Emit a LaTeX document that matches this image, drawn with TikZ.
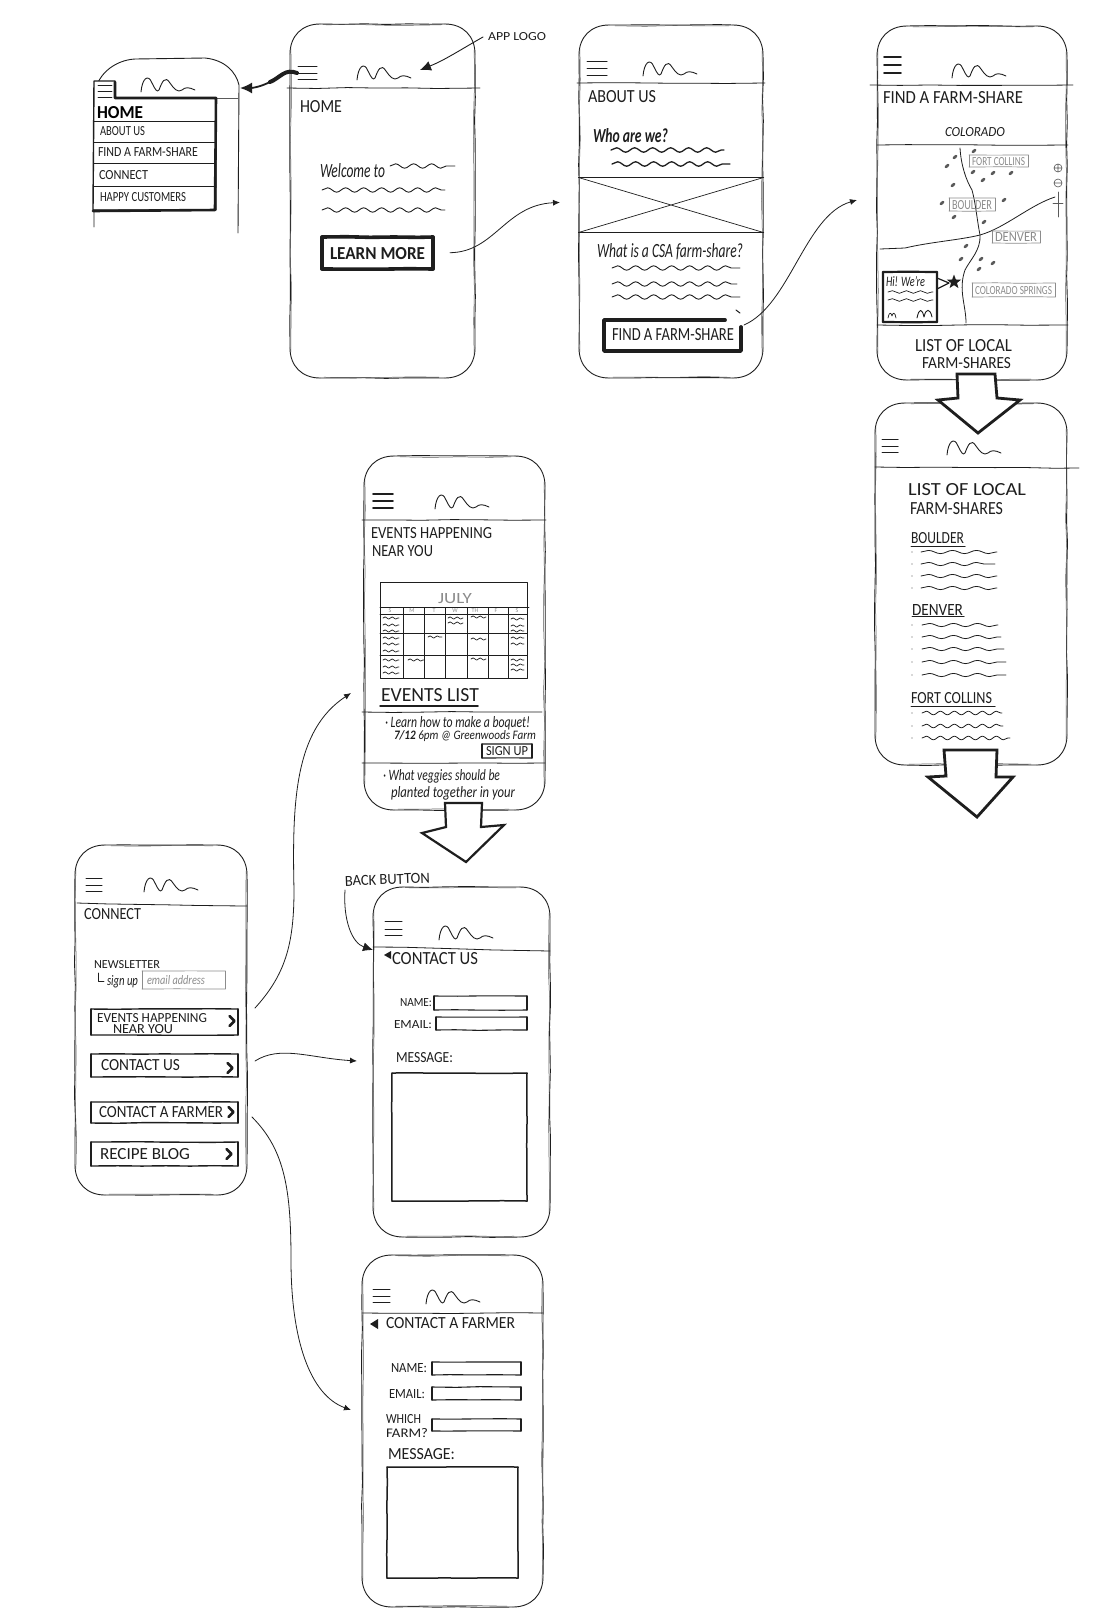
\documentclass[tikz,border=0pt]{standalone}
\usepackage{fontspec}
\usepackage{graphicx}
\setmainfont{Carlito}
\usetikzlibrary{decorations.pathmorphing,arrows.meta,shapes.geometric,calc}
\definecolor{ink}{HTML}{1E1E1E}
\definecolor{soft}{HTML}{5A5A5A}
\definecolor{pale}{HTML}{8C8C8C}
\newcounter{sktc}
\tikzset{
  x=1pt,y=-1pt,
  every path/.append style={line cap=round,line join=round},
  anchorbox/.style={inner sep=0,outer sep=0},
  phonecorner/.style={draw=ink,line width=.9pt},
  phoneside/.style={draw=ink,line width=.9pt,decorate,decoration={random steps,segment length=22pt,amplitude=.5pt}},
  ghostline/.style={draw=soft,line width=.5pt,decorate,decoration={random steps,segment length=30pt,amplitude=.7pt}},
  rule/.style={line width=.8pt,decorate,decoration={random steps,segment length=30pt,amplitude=.5pt}},
  fieldbox/.style={draw=ink,line width=1.1pt,decorate,decoration={random steps,segment length=24pt,amplitude=.35pt}},
  cta/.style={fieldbox,line width=3.6pt},
  listbtn/.style={fieldbox,line width=1.4pt},
  greybox/.style={fieldbox,draw=pale,line width=.7pt},
  wavy/.style={line width=.9pt,decorate,decoration={snake,segment length=18pt,amplitude=2.2pt}},
  wavyheavy/.style={wavy,line width=1.3pt},
  wavythin/.style={line width=.8pt,decorate,decoration={snake,segment length=24pt,amplitude=1.6pt}},
  wavysmall/.style={line width=.7pt,decorate,decoration={snake,segment length=7pt,amplitude=1.1pt}},
  logoline/.style={line width=.9pt},
  burgerline/.style={line width=1pt},
  linkline/.style={line width=.8pt,-{Latex[length=7pt,width=6pt]}},
  bigarrow/.style={draw=ink,fill=white,line width=2.8pt,line join=miter},
  labeltext/.style={inner sep=0,outer sep=0,text=ink,anchor=base west},
  paletext/.style={text=pale},
  blob/.style={fill=soft,draw=none}
}
\newcommand\skphone[5]{%
  \node[anchorbox,minimum width={(#4-#2)*1pt},minimum height={(#5-#3)*1pt}] (#1) at ({(#2+#4)/2},{(#3+#5)/2}) {};
  \draw[phonecorner] ({#2},{#3+30}) .. controls ({#2},{#3+12}) and ({#2+12},{#3}) .. ({#2+30},{#3})
    ({#4-30},{#3}) .. controls ({#4-12},{#3}) and ({#4},{#3+12}) .. ({#4},{#3+30})
    ({#4},{#5-30}) .. controls ({#4},{#5-12}) and ({#4-12},{#5}) .. ({#4-30},{#5})
    ({#2+30},{#5}) .. controls ({#2+12},{#5}) and ({#2},{#5-12}) .. ({#2},{#5-30});
  \draw[phoneside] ({#2},{#3+30}) -- ({#2},{#5-30});
  \draw[phoneside] ({#2+30},{#3}) -- ({#4-30},{#3});
  \draw[phoneside] ({#4},{#3+30}) -- ({#4},{#5-30});
  \draw[phoneside] ({#2+30},{#5}) -- ({#4-30},{#5});
  \draw[ghostline] ({#2+.9},{#3+24}) -- ({#2+.9},{#5-26});
  \draw[ghostline] ({#4-.9},{#3+26}) -- ({#4-.9},{#5-24});
  \draw[ghostline] ({#2+36},{#3+.8}) -- ({#4-34},{#3+.8});
  \draw[ghostline] ({#2+34},{#5-.8}) -- ({#4-36},{#5-.8});
}
\newcommand\skbox[6][fieldbox]{%
  \node[anchorbox,minimum width={(#5-#3)*1pt},minimum height={(#6-#4)*1pt}] (#2) at ({(#3+#5)/2},{(#4+#6)/2}) {};
  \draw[#1] (#3,#4) -- (#5,#4);
  \draw[#1] (#5,#4) -- (#5,#6);
  \draw[#1] (#5,#6) -- (#3,#6);
  \draw[#1] (#3,#6) -- (#3,#4);
}
\newcommand\sktxt[6][]{%
  \stepcounter{sktc}\pgfmathsetmacro\skw{#3-#2}%
  \node[labeltext,#1] (txt\arabic{sktc}) at (#2,{#4+#5/2}) {\resizebox{\skw pt}{#5pt}{#6}};
}
\newcommand\sklogo[2]{%
  \draw[logoline,shift={(#1,#2)}] (0,2) .. controls (1,-11) and (7,-17) .. (11,-7) .. controls (14,-1) and (16,3) .. (18,0) .. controls (21,-8) and (24,-15) .. (29,-7) .. controls (33,-1) and (37,3) .. (41,0) .. controls (44,-3) and (48,-3) .. (54,0);
}
\newcommand\skburger[6][burgerline]{%
  \draw[#1] (#2,#4) -- (#3,#4) (#2,#5) -- (#3,#5) (#2,#6) -- (#3,#6);
}
\newcommand\skchev[2]{\draw[line width=2.6pt] ({#1-2.5},{#2-5}) -- ({#1+2.5},#2) -- ({#1-2.5},{#2+5});}
\newcommand\skwave[4][wavy]{\draw[#1] (#2,#3) -- (#4,#3);}
\begin{document}
\begin{tikzpicture}[color=ink]
\pgfmathsetseed{11}
\fill[white] (0,0) rectangle (1112,1618);
\useasboundingbox (0,0) rectangle (1112,1618);

%% ---- menu overlay phone
\draw[line width=.9pt] (94,227) -- (94,100) .. controls (94,75) and (115,60) .. (135,59) -- (205,58) .. controls (225,60) and (236,72) .. (239,85) -- (238,233);
\draw[line width=.6pt,draw=soft] (217,98) -- (238,98);
\sklogo{141}{90}
\draw[fill=white,line width=1.4pt] (94,81) -- (115,81) -- (115,98) -- (216,98) -- (216,210) -- (93,210) -- cycle;
\draw[line width=2.6pt] (115,82) -- (115,98) -- (216,98) -- (215,210) -- (93,211);
\skburger[line width=.9pt]{98}{112}{85}{91}{97}
\foreach \yy in {121,142,163,186} \draw[line width=.7pt] (94,\yy) -- (215,\yy);
\sktxt[text=black]{97}{143}{112}{12}{\textbf{HOME}}
\sktxt{100}{145}{131}{9}{ABOUT US}
\sktxt{98}{198}{152}{9}{FIND A FARM-SHARE}
\sktxt{99}{148}{175}{9}{CONNECT}
\sktxt{100}{186}{197}{9}{HAPPY CUSTOMERS}
\coordinate (menuedge) at (240,88);

%% ---- home
\skphone{home}{290}{24}{475}{378}
\draw[rule] (287,88) -- (480,88);
\skburger{298}{317}{66}{73}{79}
\sklogo{357}{78}
\sktxt{300}{342}{106}{12}{HOME}
\sktxt[font=\itshape]{320}{385}{170}{14}{Welcome to}
\skwave[wavy]{390}{166}{455}
\skwave[wavy]{322}{190}{445}
\skwave[wavy]{322}{210}{445}
\skbox[cta]{learn}{322}{237}{433}{269}
\sktxt[font=\bfseries]{330}{425}{253}{12}{LEARN MORE}
\sktxt{488}{546}{36}{8}{APP LOGO}
\coordinate (logotag) at (483,37);
\coordinate (logotip) at (420,70);
\draw[line width=.9pt,-{Latex[length=11pt,width=10pt]}] (logotag) .. controls (460,50) and (445,60) .. (logotip);

%% ---- about
\skphone{about}{579}{25}{763}{378}
\draw[rule] (577,83) -- (765,83);
\skburger{587}{607}{61}{68}{75}
\sklogo{643}{74}
\sktxt{588}{656}{96}{12}{ABOUT US}
\sktxt[font=\itshape\bfseries]{593}{668}{135}{14}{Who are we?}
\skwave[wavyheavy]{611}{150}{724}
\skwave[wavyheavy]{612}{164}{730}
\node[anchorbox,minimum width=185pt,minimum height=55pt] (photo) at (671,205) {};
\draw[line width=1pt] (photo.north west) -- (photo.north east) (photo.south west) -- (photo.south east);
\draw[line width=.7pt] (photo.north west) -- (photo.south east) (photo.north east) -- (photo.south west);
\sktxt[font=\itshape]{597}{743}{250}{14}{What is a CSA farm-share?}
\skwave[wavy]{612}{268}{740}
\skwave[wavy]{612}{284}{737}
\skwave[wavy]{612}{297}{740}
\node[anchorbox,minimum width=136pt,minimum height=32pt] (findbtn) at (673,335) {};
\draw[line width=3.8pt] (725,320) -- (604,320) -- (604,351) -- (741,351) -- (741,327);
\draw[line width=1pt] (736,310) -- (740,313);
\sktxt{612}{734}{334}{12}{FIND A FARM-SHARE}

%% ---- find
\skphone{find}{877}{26}{1067}{380}
\draw[rule] (870,85) -- (1073,85);
\skburger[line width=1.6pt]{884}{901}{57}{65}{73}
\sklogo{952}{76}
\sktxt{883}{1023}{97}{12}{FIND A FARM-SHARE}
\sktxt[font=\itshape]{945}{1005}{132}{9}{COLORADO}
\draw[rule] (877,145) -- (1068,145);
\draw[rule] (877,325) -- (1068,325);
\draw[line width=.8pt] (960,148) .. controls (961,165) and (966,180) .. (972,190) .. controls (976,205) and (977,220) .. (980,235) .. controls (981,250) and (970,260) .. (965,270) .. controls (958,290) and (966,305) .. (966,323);
\draw[line width=.8pt] (880,249) -- (905,248) .. controls (930,242) and (960,240) .. (980,235) .. controls (1005,228) and (1030,205) .. (1055,197);
\draw[line width=.6pt,draw=soft] (1058,168) circle (4pt) (1054,168) -- (1062,168) (1058,164) -- (1058,172);
\draw[line width=.6pt,draw=soft] (1058,183) circle (4pt) (1054,183) -- (1062,183);
\draw[line width=.7pt,draw=soft] (1058,192) -- (1058,217) (1053,203) -- (1063,203);
\skbox[greybox]{cityfc}{969}{155}{1028}{167}
\sktxt[paletext]{972}{1025}{161}{8}{FORT COLLINS}
\skbox[greybox]{cityb}{949}{198}{995}{211}
\sktxt[paletext]{952}{992}{205}{9}{BOULDER}
\skbox[greybox]{cityd}{992}{231}{1040}{243}
\sktxt[paletext]{995}{1037}{237}{9}{DENVER}
\skbox[greybox]{citycs}{972}{283}{1055}{297}
\sktxt[paletext]{975}{1052}{290}{8}{COLORADO SPRINGS}
\foreach \mx/\my in {974/151,955/157,947/166,973/172,983/180,993/173,1011/173,953/185,942/203,1004/200,954/217,984/222,966/246,961/259,981/259,993/263,979/269}
  \fill[blob,rotate around={40:(\mx,\my)}] (\mx,\my) ellipse (2.8pt and 1.5pt);
\skbox[fieldbox,line width=2.2pt]{callout}{883}{272}{937}{322}
\sktxt[font=\itshape]{886}{925}{281}{10}{Hi! We're}
\skwave[wavysmall,decoration={snake,segment length=14pt,amplitude=1.3pt}]{888}{292}{933}
\skwave[wavysmall,decoration={snake,segment length=14pt,amplitude=1.3pt}]{888}{300}{933}
\draw[line width=.7pt] (888,318) .. controls (889,312) and (891,312) .. (892,316) .. controls (893,312) and (895,312) .. (896,318);
\draw[line width=.9pt] (917,318) .. controls (919,308) and (922,308) .. (924,317) .. controls (926,308) and (930,308) .. (932,317);
\node[star,star points=5,star point ratio=2.4,fill=ink,inner sep=0,minimum size=15pt] (pin) at (954,282) {};
\draw[line width=1.2pt] (937,278) -- (949,283) -- (937,289);
\sktxt{915}{1012}{345}{12}{LIST OF LOCAL}
\sktxt{922}{1011}{363}{11}{FARM-SHARES}

%% ---- list
\skphone{list}{875}{403}{1067}{765}
\draw[rule] (875,467) -- (1079,468);
\skburger{882}{898}{439}{446}{452}
\sklogo{947}{453}
\sktxt{908}{1026}{489}{12}{LIST OF LOCAL}
\sktxt{910}{1003}{508}{12}{FARM-SHARES}
\sktxt{911}{964}{538}{11}{BOULDER}
\draw[line width=1pt] (911,546) -- (965,546);
\foreach \yy/\xe in {552/997,564/995,576/997,588/997} {\skwave[wavythin]{921}{\yy}{\xe}\fill[blob] (912,\yy) circle (.7pt);}
\sktxt{912}{963}{610}{11}{DENVER}
\draw[line width=1pt] (912,616) -- (964,616);
\foreach \yy/\xe in {625/998,637/1001,649/1004,662/1006,675/1006} {\skwave[wavythin]{922}{\yy}{\xe}\fill[blob] (912,\yy) circle (.7pt);}
\sktxt{911}{992}{698}{11}{FORT COLLINS}
\draw[line width=1pt] (911,706) -- (995,706);
\foreach \yy/\xe in {713/1002,726/1003,738/1010} {\skwave[wavythin,decoration={snake,segment length=14pt,amplitude=1.8pt}]{922}{\yy}{\xe}\fill[blob] (912,\yy) circle (.7pt);}

%% ---- events
\skphone{events}{364}{456}{545}{810}
\draw[rule] (362,520) -- (546,520);
\skburger[line width=1.8pt]{373}{393}{494}{501}{508}
\sklogo{435}{507}
\sktxt{371}{492}{533}{11}{EVENTS HAPPENING}
\sktxt{372}{433}{551}{11}{NEAR YOU}
\draw[line width=.9pt] (380,582) rectangle (527,678);
\draw[line width=.7pt] (380,607) -- (529,607);
\draw[line width=.8pt] (380,614) -- (527,614);
\draw[line width=.9pt] (380,633) -- (527,633) (380,655) -- (527,655);
\foreach \xx in {403,424,445,467,488,508} \draw[line width=.8pt] (\xx,608) -- (\xx,678);
\sktxt[paletext]{438}{472}{598}{10}{JULY}
\foreach \lx/\lt in {390/S,412/M,434/T,455/W,475/TH,496/F,517/S} {\stepcounter{sktc}\node[inner sep=0,text=pale,font=\fontsize{6pt}{6pt}\selectfont] (txt\arabic{sktc}) at (\lx,610.5) {\lt};}
\foreach \yy in {618,625,631,638,644,651,660,667,673} {\skwave[wavysmall]{383}{\yy}{399}}
\foreach \yy in {619,626,631,638,644,660,665,670} {\skwave[wavysmall]{511}{\yy}{524}}
\skwave[wavysmall]{448}{618}{463}
\skwave[wavysmall]{448}{623}{463}
\skwave[wavysmall]{471}{617}{486}
\skwave[wavysmall]{428}{637}{442}
\skwave[wavysmall]{471}{639}{486}
\skwave[wavysmall]{408}{660}{424}
\skwave[wavysmall]{471}{659}{486}
\sktxt{381}{479}{695}{13}{EVENTS LIST}
\draw[line width=1.5pt] (380,706) -- (478,706);
\draw[rule] (362,712) -- (542,712);
\sktxt[font=\itshape]{385}{530}{722}{11}{· Learn how to make a boquet!}
\sktxt[font=\itshape]{394}{536}{735}{9}{\textbf{7/12} 6pm @ Greenwoods Farm}
\skbox{signup}{482}{744}{532}{758}
\sktxt{486}{528}{751}{9}{SIGN UP}
\draw[rule] (362,763) -- (545,763);
\sktxt[font=\itshape]{383}{500}{775}{11}{· What veggies should be}
\sktxt[font=\itshape]{391}{515}{792}{11}{planted together in your}

%% ---- connect
\skphone{connect}{75}{845}{247}{1195}
\draw[rule] (77,903) -- (247,906);
\skburger{86}{102}{878}{885}{891}
\sklogo{144}{890}
\sktxt{84}{141}{914}{11}{CONNECT}
\sktxt{94}{160}{964}{8}{NEWSLETTER}
\draw[line width=.8pt] (98,973) -- (98,981) -- (104,981);
\sktxt[font=\itshape]{107}{138}{980}{10}{sign up}
\skbox[greybox]{emailbox}{142}{971}{225}{989}
\sktxt[paletext,font=\itshape]{147}{205}{980}{9}{email address}
\skbox[listbtn]{evbtn}{91}{1009}{238}{1035}
\sktxt{97}{207}{1018}{9}{EVENTS HAPPENING}
\sktxt{113}{173}{1029}{9}{NEAR YOU}
\skchev{232}{1021}
\skbox[listbtn]{cubtn}{91}{1054}{238}{1077}
\sktxt{101}{180}{1065}{11}{CONTACT US}
\skchev{230}{1068}
\skbox[listbtn]{cfbtn}{91}{1102}{238}{1123}
\sktxt{99}{223}{1112}{11}{CONTACT A FARMER}
\skchev{231}{1112}
\skbox[listbtn]{rbbtn}{91}{1142}{238}{1166}
\sktxt{100}{190}{1154}{11}{RECIPE BLOG}
\skchev{229}{1154}

%% ---- contact us
\skphone{contact}{373}{887}{550}{1237}
\draw[rule] (373,947) -- (550,951);
\skburger{385}{402}{921}{929}{935}
\sklogo{439}{938}
\fill[ink] (384,955) -- (391,951) -- (391,959) -- cycle;
\sktxt{392}{478}{958}{12}{CONTACT US}
\sktxt[rotate=2]{345}{430}{881}{10}{BACK BUTTON}
\sktxt{400}{432}{1002}{8}{NAME:}
\sktxt{394}{432}{1024}{8}{EMAIL:}
\skbox{cname}{434}{996}{527}{1010}
\skbox{cmail}{436}{1017}{527}{1030}
\sktxt{396}{453}{1057}{10}{MESSAGE:}
\skbox[fieldbox,line width=1.5pt]{cmsg}{392}{1073}{527}{1201}
\coordinate (backtag) at (345,890);
\coordinate (backtip) at (373,950);
\draw[line width=.8pt,-{Latex[length=10pt,width=9pt]}] (backtag) .. controls (343,920) and (352,943) .. (backtip);

%% ---- contact farmer
\skphone{farmer}{362}{1255}{543}{1607}
\draw[rule] (362,1313) -- (543,1313);
\skburger{373}{390}{1289}{1296}{1302}
\sklogo{426}{1302}
\fill[ink] (370,1324) -- (378,1319) -- (378,1329) -- cycle;
\sktxt{386}{515}{1323}{11}{CONTACT A FARMER}
\sktxt{391}{427}{1368}{9}{NAME:}
\sktxt{389}{425}{1394}{9}{EMAIL:}
\sktxt{386}{421}{1419}{9}{WHICH}
\sktxt{386}{428}{1433}{9}{FARM?}
\sktxt{388}{455}{1454}{11}{MESSAGE:}
\skbox{fname}{432}{1362}{521}{1375}
\skbox{fmail}{432}{1387}{521}{1400}
\skbox{ffarm}{432}{1419}{521}{1431}
\skbox[fieldbox,line width=1.5pt]{fmsg}{387}{1467}{518}{1578}

%% ---- connectors
\coordinate (homeburger) at (297,73);
\coordinate (menuthin) at (270,82);
\draw[line width=1.8pt,-{Latex[length=12pt,width=11pt]}] (homeburger) .. controls (285,68) and (280,78) .. (menuthin) .. controls (258,88) and (250,88) .. (menuedge);
\draw[line width=4pt] (homeburger) .. controls (285,68) and (280,78) .. (menuthin);
\draw[linkline,shorten <=17pt,shorten >=19pt] (learn.east) .. controls (495,252) and (505,205) .. (about.west);
\coordinate (aboutout) at (744,325);
\coordinate (findin) at (857,200);
\draw[linkline] (aboutout) .. controls (790,305) and (805,215) .. (findin);
\coordinate (evstart) at (255,1008);
\coordinate (evend) at (351,693);
\draw[linkline] (evstart) .. controls (285,975) and (294,945) .. (294,890) .. controls (292,800) and (295,730) .. (evend);
\coordinate (custart) at (255,1061);
\draw[linkline,shorten >=16pt] (custart) .. controls (280,1045) and (310,1058) .. (contact.west);
\coordinate (cfstart) at (252,1117);
\coordinate (cfend) at (351,1410);
\draw[linkline] (cfstart) .. controls (285,1150) and (291,1190) .. (291,1260) .. controls (291,1340) and (310,1395) .. (cfend);

%% ---- big down arrows
\draw[bigarrow] (957,374) -- (995,374) -- (997,398) -- (1020,400) -- (978,433) -- (938,400) -- (958,398) -- cycle;
\draw[bigarrow] (944,750) -- (997,750) -- (996,777) -- (1013,777) -- (977,817) -- (928,777) -- (946,776) -- cycle;
\draw[bigarrow,line width=2.2pt] (445,803) -- (482,803) -- (481,827) -- (504,825) -- (466,862) -- (422,833) -- (446,827) -- cycle;
\end{tikzpicture}
\end{document}
